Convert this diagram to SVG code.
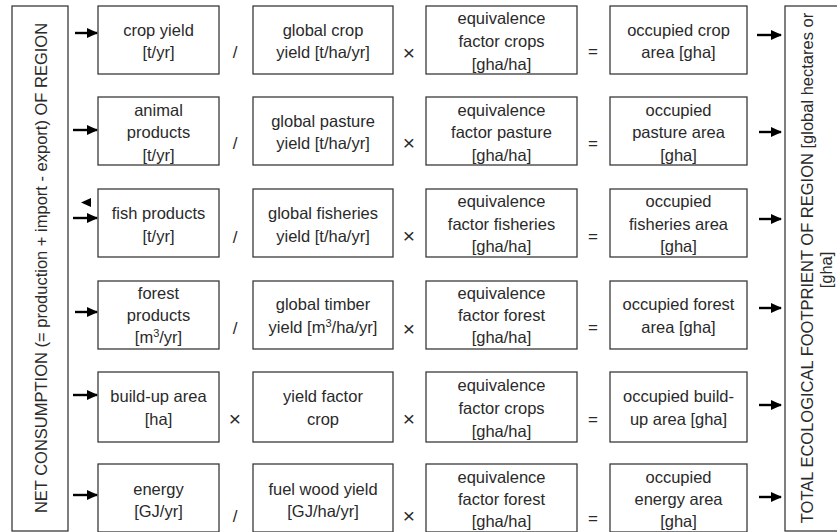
<svg xmlns="http://www.w3.org/2000/svg" width="837" height="532" viewBox="0 0 837 532">
<style>
.box{fill:#fff;stroke:#3a3a3a;stroke-width:1.3}
.t{font-family:"Liberation Sans",Arial,sans-serif;font-size:16.5px;fill:#2a2a2a;text-anchor:middle}
.op{font-family:"Liberation Sans",Arial,sans-serif;font-size:17px;fill:#2a2a2a;text-anchor:middle}
.x{font-size:21px}
.arr{stroke:#000;stroke-width:2.4;fill:none}
.sup{font-size:11px}
</style>
<defs>
<marker id="ah" markerUnits="userSpaceOnUse" markerWidth="12" markerHeight="12" refX="10" refY="6" orient="auto">
<path d="M0,1 L11,6 L0,11 z" fill="#000"/>
</marker>
</defs>
<rect width="837" height="532" fill="#fff"/>

<g id="net-consumption">
<rect class="box" x="12" y="6" width="56" height="525"/>
<text class="t" transform="translate(47,268) rotate(-90)">NET CONSUMPTION (= production + import - export) OF REGION</text>
</g>
<g id="total-footprint">
<rect class="box" x="785" y="6" width="70" height="525"/>
<text class="t" transform="translate(813,268) rotate(-90)">TOTAL ECOLOGICAL FOOTPRIENT OF REGION [global hectares or</text>
<text class="t" transform="translate(832,270) rotate(-90)">[gha]</text>
</g>

<!-- Row 1 -->
<g id="crop-yield"><rect class="box" x="98" y="6" width="121" height="68"/>
<text class="t" x="158.5" y="36">crop yield</text><text class="t" x="158.5" y="58">[t/yr]</text></g>
<g id="global-crop-yield"><rect class="box" x="253" y="6" width="140" height="68"/>
<text class="t" x="323" y="36">global crop</text><text class="t" x="323" y="58">yield [t/ha/yr]</text></g>
<g id="eq-crops-1"><rect class="box" x="426" y="6" width="151" height="68"/>
<text class="t" x="501.5" y="24">equivalence</text><text class="t" x="501.5" y="47">factor crops</text><text class="t" x="501.5" y="70">[gha/ha]</text></g>
<g id="occ-crop"><rect class="box" x="610" y="6" width="137" height="68"/>
<text class="t" x="678.5" y="36">occupied crop</text><text class="t" x="678.5" y="58">area [gha]</text></g>

<!-- Row 2 -->
<g id="animal-products"><rect class="box" x="98" y="97" width="121" height="68"/>
<text class="t" x="158.5" y="116">animal</text><text class="t" x="158.5" y="138">products</text><text class="t" x="158.5" y="161">[t/yr]</text></g>
<g id="global-pasture-yield"><rect class="box" x="253" y="97" width="140" height="68"/>
<text class="t" x="323" y="127">global pasture</text><text class="t" x="323" y="149">yield [t/ha/yr]</text></g>
<g id="eq-pasture"><rect class="box" x="426" y="97" width="151" height="68"/>
<text class="t" x="501.5" y="116">equivalence</text><text class="t" x="501.5" y="138">factor pasture</text><text class="t" x="501.5" y="161">[gha/ha]</text></g>
<g id="occ-pasture"><rect class="box" x="610" y="97" width="137" height="68"/>
<text class="t" x="678.5" y="116">occupied</text><text class="t" x="678.5" y="138">pasture area</text><text class="t" x="678.5" y="161">[gha]</text></g>

<!-- Row 3 -->
<g id="fish-products"><rect class="box" x="98" y="189" width="121" height="68"/>
<text class="t" x="158.5" y="219">fish products</text><text class="t" x="158.5" y="242">[t/yr]</text></g>
<g id="global-fisheries-yield"><rect class="box" x="253" y="189" width="140" height="68"/>
<text class="t" x="323" y="219">global fisheries</text><text class="t" x="323" y="242">yield [t/ha/yr]</text></g>
<g id="eq-fisheries"><rect class="box" x="426" y="189" width="151" height="68"/>
<text class="t" x="501.5" y="207">equivalence</text><text class="t" x="501.5" y="230">factor fisheries</text><text class="t" x="501.5" y="252">[gha/ha]</text></g>
<g id="occ-fisheries"><rect class="box" x="610" y="189" width="137" height="68"/>
<text class="t" x="678.5" y="207">occupied</text><text class="t" x="678.5" y="230">fisheries area</text><text class="t" x="678.5" y="252">[gha]</text></g>

<!-- Row 4 -->
<g id="forest-products"><rect class="box" x="98" y="281" width="121" height="68"/>
<text class="t" x="158.5" y="299">forest</text><text class="t" x="158.5" y="321">products</text><text class="t" x="158.5" y="343">[m<tspan class="sup" dy="-6">3</tspan><tspan dy="6">/yr]</tspan></text></g>
<g id="global-timber-yield"><rect class="box" x="253" y="281" width="140" height="68"/>
<text class="t" x="323" y="310">global timber</text><text class="t" x="323" y="333">yield [m<tspan class="sup" dy="-6">3</tspan><tspan dy="6">/ha/yr]</tspan></text></g>
<g id="eq-forest-1"><rect class="box" x="426" y="281" width="151" height="68"/>
<text class="t" x="501.5" y="299">equivalence</text><text class="t" x="501.5" y="321">factor forest</text><text class="t" x="501.5" y="343">[gha/ha]</text></g>
<g id="occ-forest"><rect class="box" x="610" y="281" width="137" height="68"/>
<text class="t" x="678.5" y="310">occupied forest</text><text class="t" x="678.5" y="333">area [gha]</text></g>

<!-- Row 5 -->
<g id="build-up-area"><rect class="box" x="98" y="372" width="121" height="70"/>
<text class="t" x="158.5" y="402">build-up area</text><text class="t" x="158.5" y="425">[ha]</text></g>
<g id="yield-factor-crop"><rect class="box" x="253" y="372" width="140" height="70"/>
<text class="t" x="323" y="402">yield factor</text><text class="t" x="323" y="425">crop</text></g>
<g id="eq-crops-2"><rect class="box" x="426" y="372" width="151" height="70"/>
<text class="t" x="501.5" y="391">equivalence</text><text class="t" x="501.5" y="414">factor crops</text><text class="t" x="501.5" y="437">[gha/ha]</text></g>
<g id="occ-build-up"><rect class="box" x="610" y="372" width="137" height="70"/>
<text class="t" x="678.5" y="402">occupied build-</text><text class="t" x="678.5" y="425">up area [gha]</text></g>

<!-- Row 6 -->
<g id="energy"><rect class="box" x="98" y="464" width="121" height="68"/>
<text class="t" x="158.5" y="495">energy</text><text class="t" x="158.5" y="517">[GJ/yr]</text></g>
<g id="fuel-wood-yield"><rect class="box" x="253" y="464" width="140" height="68"/>
<text class="t" x="323" y="495">fuel wood yield</text><text class="t" x="323" y="517">[GJ/ha/yr]</text></g>
<g id="eq-forest-2"><rect class="box" x="426" y="464" width="151" height="68"/>
<text class="t" x="501.5" y="483">equivalence</text><text class="t" x="501.5" y="505">factor forest</text><text class="t" x="501.5" y="527">[gha/ha]</text></g>
<g id="occ-energy"><rect class="box" x="610" y="464" width="137" height="68"/>
<text class="t" x="678.5" y="483">occupied</text><text class="t" x="678.5" y="505">energy area</text><text class="t" x="678.5" y="527">[gha]</text></g>

<g id="operators">
<text class="op" x="235" y="58">/</text><text class="op x" x="409" y="60">×</text><text class="op" x="593" y="57">=</text>
<text class="op" x="235" y="149">/</text><text class="op x" x="409" y="150">×</text><text class="op" x="593" y="149">=</text>
<text class="op" x="235" y="243">/</text><text class="op x" x="409" y="243">×</text><text class="op" x="593" y="242">=</text>
<text class="op" x="235" y="334">/</text><text class="op x" x="409" y="336">×</text><text class="op" x="593" y="333">=</text>
<text class="op x" x="235" y="426">×</text><text class="op x" x="409" y="426">×</text><text class="op" x="593" y="425">=</text>
<text class="op" x="235" y="522">/</text><text class="op x" x="409" y="523">×</text><text class="op" x="593" y="524">=</text>
</g>

<g id="connectors">
<line class="arr" x1="75" y1="33" x2="97" y2="33" marker-end="url(#ah)"/>
<line class="arr" x1="73" y1="130" x2="97" y2="130" marker-end="url(#ah)"/>
<line class="arr" x1="73" y1="218" x2="97" y2="218" marker-end="url(#ah)"/>
<polygon points="81,202.5 91,198 91,207" fill="#000"/>
<line class="arr" x1="75" y1="312" x2="97" y2="312" marker-end="url(#ah)"/>
<line class="arr" x1="73" y1="395" x2="97" y2="395" marker-end="url(#ah)"/>
<line class="arr" x1="73" y1="495" x2="97" y2="495" marker-end="url(#ah)"/>
<line class="arr" x1="757" y1="35" x2="781" y2="35" marker-end="url(#ah)"/>
<line class="arr" x1="759" y1="132" x2="781" y2="132" marker-end="url(#ah)"/>
<line class="arr" x1="759" y1="219" x2="781" y2="219" marker-end="url(#ah)"/>
<line class="arr" x1="759" y1="308" x2="781" y2="308" marker-end="url(#ah)"/>
<line class="arr" x1="759" y1="405" x2="781" y2="405" marker-end="url(#ah)"/>
<line class="arr" x1="759" y1="497" x2="781" y2="497" marker-end="url(#ah)"/>
</g>
</svg>
